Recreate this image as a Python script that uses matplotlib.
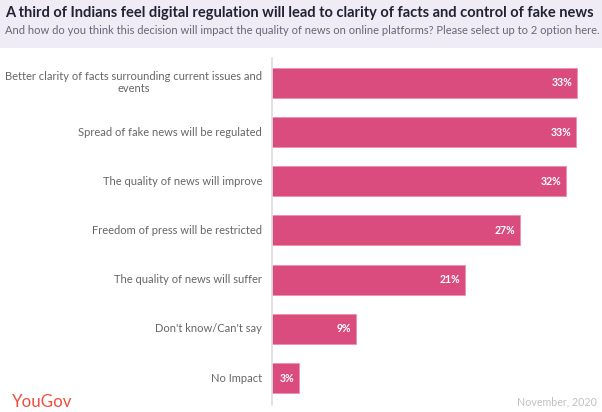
import matplotlib
matplotlib.use("Agg")
import matplotlib.pyplot as plt
from matplotlib.patches import Rectangle

categories = [
    "Better clarity of facts surrounding current issues and\nevents",
    "Spread of fake news will be regulated",
    "The quality of news will improve",
    "Freedom of press will be restricted",
    "The quality of news will suffer",
    "Don't know/Can't say",
    "No Impact",
]
values = [33.2, 33.1, 32.0, 27.0, 21.0, 9.1, 2.9]
labels = ["33%", "33%", "32%", "27%", "21%", "9%", "3%"]

title = "A third of Indians feel digital regulation will lead to clarity of facts and control of fake news"
subtitle = "And how do you think this decision will impact the quality of news on online platforms? Please select up to 2 option here."

W, H = 602, 412
DPI = 100
fig = plt.figure(figsize=(W / DPI, H / DPI), dpi=DPI)
plt.rcParams['font.family'] = ['Lato', 'DejaVu Sans']

# header band
fig.patches.append(Rectangle((0, 1 - 48 / H), 1, 48 / H, transform=fig.transFigure,
                             facecolor="#efecf5", edgecolor="none", zorder=0))
fig.text(5 / W, 1 - 13 / H, title, fontsize=10.5, fontweight="bold", color="#222233",
         va="center", ha="left")
fig.text(5 / W, 1 - 31 / H, subtitle, fontsize=8.0, color="#666677",
         va="center", ha="left")

# axes: left at x=272, 0..33.2 -> 272..577
ax_left = 272 / W
ax_bottom = 1 - 405 / H
ax_top = 1 - 58 / H
ax_w_px = 600 - 272
ax = fig.add_axes([ax_left, ax_bottom, ax_w_px / W, ax_top - ax_bottom])
xmax = 33.2 * ax_w_px / (577 - 272)
ax.set_xlim(0, xmax)
n = len(categories)
ax.set_ylim(6.549, -0.508)
ypos = list(range(n))
ax.barh(ypos, values, height=0.61, color="#da4b7e", edgecolor="#f08fb0", linewidth=0.6)
for y, v, lab in zip(ypos, values, labels):
    ax.text(v - 0.5, y, lab, ha="right", va="center", color="white",
            fontsize=7.6, fontweight="bold")
ax.set_yticks([])
ax.set_xticks([])

# category labels: right-aligned block, lines centred within the block
renderer = fig.canvas.get_renderer()
ytrans = ax.get_yaxis_transform()
px2pt = 72 / DPI
line_px = 12
for y, cat in zip(ypos, categories):
    lines = cat.split("\n")
    widths = []
    for ln in lines:
        t = fig.text(0, 0, ln, fontsize=8.0)
        widths.append(t.get_window_extent(renderer).width)
        t.remove()
    blockw = max(widths)
    cx = -10 - blockw / 2
    nl = len(lines)
    for i, ln in enumerate(lines):
        dy = ((nl - 1) / 2 - i) * line_px
        ax.annotate(ln, xy=(0, y), xycoords=ytrans,
                    xytext=(cx * px2pt, dy * px2pt), textcoords="offset points",
                    ha="center", va="center", fontsize=8.0, color="#666666",
                    annotation_clip=False)

for s in ["top", "right", "bottom"]:
    ax.spines[s].set_visible(False)
ax.spines["left"].set_color("#dddddd")
ax.spines["left"].set_linewidth(1.2)

fig.text(12 / W, 1 - 402 / H, "YouGov", fontsize=12.2, color="#f04e3c",
         va="center", ha="left")
fig.text(597 / W, 1 - 402 / H, "November, 2020", fontsize=7.7, color="#c0c0c0",
         va="center", ha="right")

fig.savefig("out.png", dpi=DPI)
